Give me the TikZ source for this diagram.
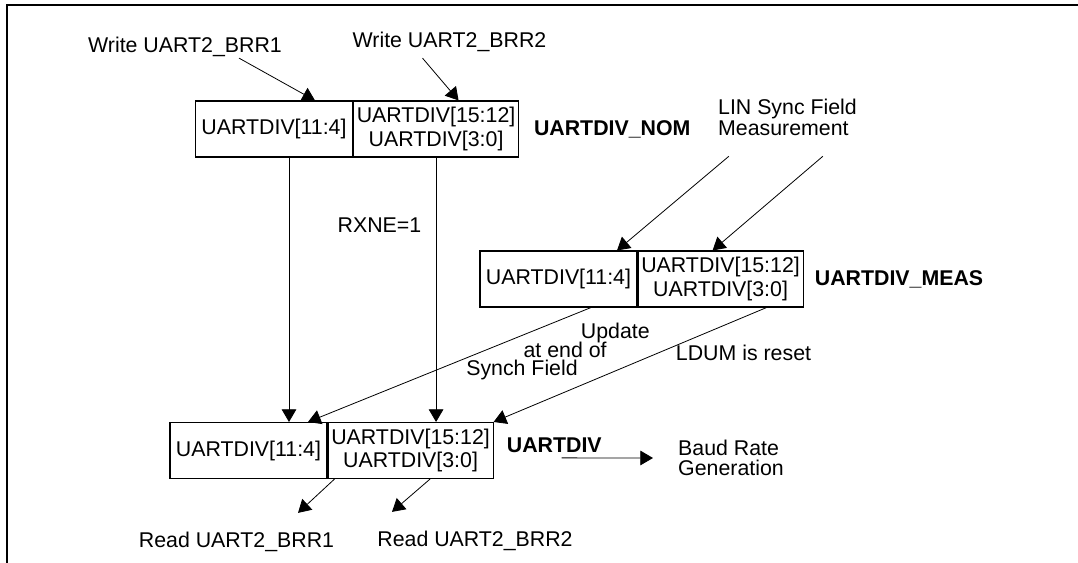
\documentclass[tikz,border=0pt]{standalone}
\usepackage{fontspec}
\setmainfont{Liberation Sans}
\usetikzlibrary{arrows.meta,positioning,calc}

\tikzset{
  lbl/.style={inner sep=0pt,font=\fontsize{16}{16}\selectfont},
  regname/.style={inner sep=0pt,font=\fontsize{16}{16}\selectfont\bfseries},
  cell/.style={draw,line width=0.8pt,inner sep=1pt,minimum height=42pt,align=center,
    font=\fontsize{16}{17.5}\selectfont},
  lowcell/.style={cell,minimum width=117.75pt},
  highcell/.style={cell,minimum width=123.75pt},
  arr/.style={line width=0.6pt,-{Triangle[length=9.5pt,width=11pt]}}
}

\begin{document}
\begin{tikzpicture}[x=0.75pt,y=-0.75pt]
  \useasboundingbox (0,0) rectangle (1078,563);
  % Frame
  \draw[line width=1.5pt] (7,563) -- (7,5) -- (1078,5);

  % Nominal register, written by software
  \node[lowcell] (nomL) at (274,129) {UARTDIV[11:4]};
  \node[highcell,right=0pt of nomL] (nomR) {UARTDIV[15:12]\\UARTDIV[3:0]};
  \node[regname,right=11pt of nomR] (nomLbl) {UARTDIV\_NOM};
  \node[lbl] (wr1) at (185,47) {Write UART2\_BRR1};
  \node[lbl] (wr2) at (449.5,42) {Write UART2\_BRR2};

  % Measured register, from the LIN sync field
  \node[lowcell] (measL) at (558.5,279) {UARTDIV[11:4]};
  \node[highcell,right=0pt of measL] (measR) {UARTDIV[15:12]\\UARTDIV[3:0]};
  \node[regname,right=8.25pt of measR] (measLbl) {UARTDIV\_MEAS};
  \node[lbl,align=left] (lin) at (787.5,117.5) {LIN Sync Field\\Measurement};

  % Active divider
  \node[lowcell] (botL) at (248.5,450.5) {UARTDIV[11:4]};
  \node[highcell,right=0pt of botL] (botR) {UARTDIV[15:12]\\UARTDIV[3:0]};
  \node[regname,right=9.75pt of botR,yshift=4pt] (botLbl) {UARTDIV};
  \node[lbl,align=left,font=\fontsize{16}{15}\selectfont] (baud) at (731,458) {Baud Rate\\Generation};
  \node[lbl] (rd1) at (236.5,542) {Read UART2\_BRR1};
  \node[lbl] (rd2) at (475,541) {Read UART2\_BRR2};

  % Condition labels
  \node[lbl] (rxne) at (379.5,225) {RXNE=1};
  \node[lbl,align=left,anchor=west] (upd) at (466,351.5)
    {\hspace*{86pt}Update\\[-2pt]\hspace*{43pt}at end of\\[-2pt]Synch Field};
  \node[lbl] (ldum) at (743.5,353) {LDUM is reset};

  % Writes
  \draw[arr] ($(wr1.south)+(54,1)$) -- ($(nomL.north)+(41,0)$);
  \draw[arr] ($(wr2.south)+(-27,6)$) -- ($(nomR.north)+(22.5,0)$);
  \draw[arr] ($(lin.south west)+(11,20)$) -- ($(measL.north)+(58.5,0)$);
  \draw[arr] ($(lin.south west)+(105,20)$) -- ($(measR.north)+(-8,0)$);

  % Loads into UARTDIV
  \coordinate (nomTap) at ($(nomL.south)+(15,0)$);
  \draw[arr] (nomTap) -- (nomTap |- botL.north);
  \draw[arr] (nomR.south) -- (nomR.south |- botR.north);
  \draw[arr] ($(measL.south)+(32.5,0)$) -- ($(botL.north)+(59.5,0)$);
  \draw[arr] ($(measR.south)+(46,0)$) -- (botR.north east);

  % Outputs
  \draw[arr] ($(botLbl.south west)+(55,5)$) -- ($(baud.west)+(-25,0)$);
  \draw[arr] ($(botR.south west)+(7,0)$) -- ($(rd1.north)+(61.5,-19)$);
  \draw[arr] ($(botR.south)+(19.5,0)$) -- ($(rd2.north)+(-83,-19)$);
\end{tikzpicture}
\end{document}
